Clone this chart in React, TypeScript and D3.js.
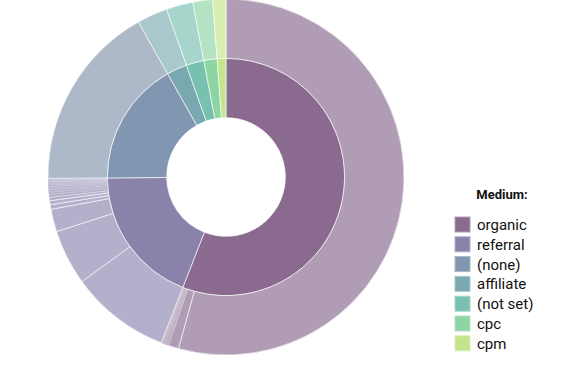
import React from "react";
import * as d3 from "d3";

const mediums = ["organic", "referral", "(none)", "affiliate", "(not set)", "cpc", "cpm"];
const innerColors = ["#8a6b8f", "#8a82aa", "#8196b0", "#7aa8b0", "#78c0b0", "#8dd5a2", "#c3e58d"];
const outerColors = ["#b09db5", "#b3b0cb", "#adb9c9", "#a8c8cc", "#a6d6cb", "#b3e3c3", "#d8eeb1"];

const organicSources = [19560, 340, 45, 40, 35, 30, 30, 25, 20, 20];
const referralSources = [3270, 1810, 740, 150, 130, 110, 90, 80, 70, 60, 55, 50, 45, 40, 35, 30, 30, 25];
const noneSources = [6100];
const affiliateSources = [1000];
const notSetSources = [870];
const cpcSources = [650];
const cpmSources = [430];

const sourcesByMedium = [organicSources, referralSources, noneSources, affiliateSources, notSetSources, cpcSources, cpmSources];

const W = 561, H = 379;
const cx = 226, cy = 177;
const R = 178;

type Node = { name: string; value?: number; children?: Node[]; idx?: number };

export default function App() {
  const data: Node = {
    name: "root",
    children: mediums.map((m, i) => ({
      name: m,
      idx: i,
      children: sourcesByMedium[i].map((v, j) => ({ name: m + "-" + j, value: v, idx: i })),
    })),
  };
  const root = d3.hierarchy<Node>(data).sum((d) => d.value || 0);
  d3.partition<Node>().size([2 * Math.PI, R])(root);
  const arc = d3
    .arc<d3.HierarchyRectangularNode<Node>>()
    .startAngle((d) => d.x0)
    .endAngle((d) => d.x1)
    .innerRadius((d) => d.y0)
    .outerRadius((d) => d.y1);
  const rr = root as d3.HierarchyRectangularNode<Node>;
  const level1 = rr.descendants().filter((d) => d.depth === 1);
  const level2 = rr.descendants().filter((d) => d.depth === 2);
  const underArc = d3
    .arc<d3.HierarchyRectangularNode<Node>>()
    .startAngle((d) => d.x0)
    .endAngle((d) => d.x1)
    .innerRadius((d) => d.y1)
    .outerRadius(R);

  const legendX = 455, legendY0 = 217, step = 19.8;

  return (
    <svg width={W} height={H} style={{ position: "absolute", left: 0, top: 0, fontFamily: "Roboto, sans-serif" }}>
      <g transform={`translate(${cx},${cy})`}>
        {level1.map((d, i) => (
          <path
            key={"u" + i}
            d={underArc(d) || ""}
            fill={d3.interpolateRgb(outerColors[d.data.idx!], innerColors[d.data.idx!])(0.35)}
          />
        ))}
        {level1.map((d, i) => (
          <path
            key={"a" + i}
            d={arc(d) || ""}
            fill={innerColors[d.data.idx!]}
            stroke="#fff"
            strokeOpacity={0.8}
            strokeWidth={0.8}
          />
        ))}
        {level2.map((d, i) => {
          const deg = (d.x1 - d.x0) * (180 / Math.PI);
          const small = deg < 1;
          return (
            <path
              key={"b" + i}
              d={arc(d) || ""}
              fill={outerColors[d.data.idx!]}
              stroke="#fff"
              strokeOpacity={small ? 0.55 : 0.8}
              strokeWidth={small ? 0.4 : 0.8}
            />
          );
        })}
      </g>
      <text x={502} y={199} textAnchor="middle" fontSize={13} fontWeight="bold" fill="#111">
        Medium:
      </text>
      {mediums.map((m, i) => (
        <g key={m}>
          <rect
            x={legendX}
            y={legendY0 + i * step}
            width={15}
            height={15}
            fill={innerColors[i]}
            stroke={outerColors[i]}
            strokeWidth={1}
          />
          <text x={477} y={legendY0 + i * step + 13} fontSize={15} fill="#111">
            {m}
          </text>
        </g>
      ))}
    </svg>
  );
}
